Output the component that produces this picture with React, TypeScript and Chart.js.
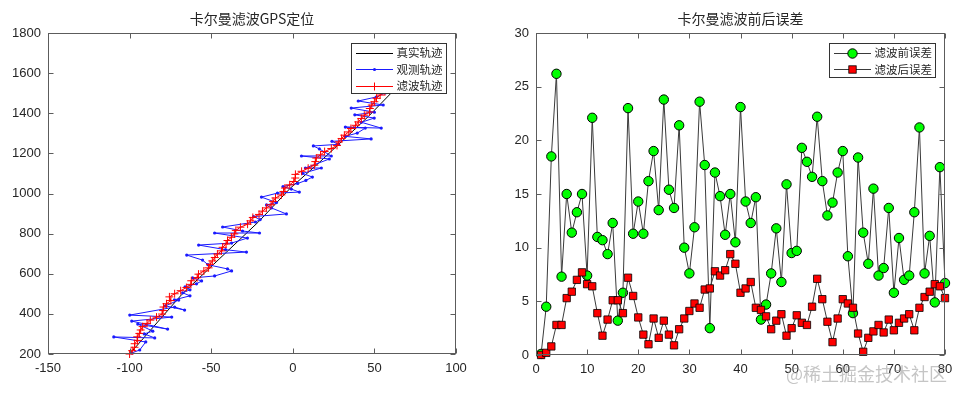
import React, { useEffect, useRef } from "react";
import { Chart, registerables } from "chart.js";

Chart.register(...registerables);

// ---------- Left chart: trajectories ----------
const trueX = [-100, -68, -21, -1.6, 15.6, 46.2, 60.6];
const trueY = [200, 497, 859, 1026, 1150, 1383, 1503.5];

const obsX = [
  -98.7, -93.8, -90.1, -109.7, -84.6, -91.0, -85.8, -95.0, -76.7, -98.7,
  -74.2, -99.9, -72.4, -66.3, -78.0, -69.9, -72.5, -63.0, -67.5, -63.0,
  -66.0, -59.0, -55.9, -61.4, -47.9, -37.5, -40.0, -52.0, -55.3, -65.0,
  -28.4, -41.2, -57.7, -37.5, -27.8, -47.9, -20.4, -30.8, -43.0, -22.9,
  -20.0, -24.0, -3.9, -13.1, -16.1, -10.0, -19.2, -9.4, 4.0, -0.9,
  -6.0, 3.0, 8.0, 12.0, 6.0, 17.5, 7.7, 22.4, 5.3, 23.6,
  16.3, 12.6, 28.0, 24.0, 48.0, 32.0, 39.5, 44.4, 32.2, 54.2,
  42.0, 49.9, 38.0, 50.0, 35.8, 55.4, 40.1, 51.1, 56.6, 66.4,
];
const obsY = [
  205, 220, 260, 285, 280, 300, 314, 349, 324, 364,
  384, 394, 434, 419, 440, 469, 470, 490, 505, 520,
  535, 550, 564, 579, 589, 614, 624, 645, 668, 693,
  708, 720, 743, 753, 778, 803, 803, 813, 833, 858,
  870, 885, 898, 928, 943, 955, 982, 1002, 1007, 1022,
  1035, 1050, 1065, 1082, 1100, 1127, 1127, 1172, 1187, 1187,
  1222, 1237, 1245, 1260, 1272, 1285, 1301, 1326, 1331, 1326,
  1355, 1376, 1392, 1405, 1426, 1441, 1461, 1481, 1501, 1506,
];

const filtX = [
  -100, -98.4, -97.0, -96.9, -95.1, -95.3, -94.0, -93.2, -92.0, -89.3,
  -87.3, -83.5, -80.1, -79.5, -79.2, -77.4, -74.7, -75.6, -72.4, -68.7,
  -65.2, -62.4, -62.2, -58.6, -57.8, -54.5, -51.6, -50.7, -49.3, -47.8,
  -46.2, -43.7, -43.0, -40.9, -40.0, -37.6, -35.8, -34.9, -32.1, -27.7,
  -26.0, -24.5, -20.7, -18.6, -16.2, -13.3, -12.1, -10.6, -7.0, -5.7,
  -4.8, -1.9, 0.6, 1.5, 1.6, 5.4, 9.4, 13.2, 13.8, 14.4,
  17.0, 19.5, 23.6, 27.1, 28.2, 29.9, 31.6, 34.3, 35.6, 38.5,
  40.1, 42.0, 43.8, 47.0, 47.2, 48.4, 50.0, 51.3, 53.5, 56.4,
];
const filtY = [
  200, 216.6, 233.5, 251.2, 267.7, 285.7, 302.5, 319.7, 336.6, 352.5,
  368.8, 383.8, 399.1, 416.5, 434.1, 450.6, 466.3, 484.8, 500.3, 515.6,
  531.1, 547.1, 565.0, 580.5, 597.9, 613.6, 629.5, 646.9, 664.0, 681.0,
  697.9, 714.1, 731.7, 748.2, 765.7, 781.9, 798.7, 816.1, 832.1, 847.0,
  863.7, 880.6, 895.6, 912.0, 928.2, 943.9, 960.9, 977.8, 993.1, 1010.0,
  1027.2, 1043.3, 1059.7, 1077.2, 1095.3, 1110.6, 1125.9, 1141.2, 1159.0, 1176.6,
  1192.9, 1209.1, 1224.2, 1239.7, 1257.0, 1273.8, 1290.7, 1306.8, 1324.0, 1339.9,
  1356.8, 1373.5, 1390.3, 1405.9, 1423.6, 1440.7, 1457.5, 1474.5, 1490.8, 1506.7,
];

const leftXTicks = [-150, -100, -50, 0, 50, 100];
const leftYTicks = [200, 400, 600, 800, 1000, 1200, 1400, 1600, 1800];

// ---------- Right chart: errors ----------
const steps = [
  1, 2, 3, 4, 5, 6, 7, 8, 9, 10, 11, 12, 13, 14, 15, 16, 17, 18, 19, 20,
  21, 22, 23, 24, 25, 26, 27, 28, 29, 30, 31, 32, 33, 34, 35, 36, 37, 38, 39, 40,
  41, 42, 43, 44, 45, 46, 47, 48, 49, 50, 51, 52, 53, 54, 55, 56, 57, 58, 59, 60,
  61, 62, 63, 64, 65, 66, 67, 68, 69, 70, 71, 72, 73, 74, 75, 76, 77, 78, 79, 80,
];
const errBefore = [
  0.1, 4.5, 18.5, 26.2, 7.3, 15.0, 11.4, 13.3, 15.0, 7.4,
  22.1, 11.0, 10.7, 9.4, 12.3, 3.2, 5.8, 23.0, 11.3, 14.3,
  11.3, 16.2, 19.0, 13.5, 23.8, 15.4, 13.7, 21.4, 10.0, 7.6,
  11.9, 23.6, 17.7, 2.5, 17.0, 14.8, 11.2, 15.0, 10.5, 23.1,
  14.3, 12.3, 14.7, 3.3, 4.7, 7.6, 11.8, 6.8, 15.9, 9.5,
  9.7, 19.3, 18.0, 16.6, 22.2, 16.2, 13.0, 14.2, 17.0, 19.0,
  9.2, 3.9, 18.4, 11.4, 8.5, 15.5, 7.4, 8.1, 13.7, 5.8,
  10.9, 7.0, 7.4, 13.3, 21.2, 7.6, 11.1, 4.9, 17.5, 6.7,
];
const errAfter = [
  0.0, 0.2, 0.8, 2.8, 2.8, 5.3, 5.9, 7.0, 7.7, 6.6,
  6.4, 3.9, 1.8, 3.3, 5.1, 5.1, 3.9, 7.2, 5.5, 3.5,
  1.9, 1.0, 3.4, 1.6, 3.2, 1.9, 0.9, 2.4, 3.4, 4.1,
  4.8, 4.4, 6.1, 6.2, 7.8, 7.4, 7.9, 9.4, 8.5, 5.8,
  6.2, 6.8, 4.4, 4.2, 3.6, 2.4, 3.2, 3.8, 1.8, 2.5,
  3.7, 3.0, 2.8, 4.5, 7.1, 5.2, 3.1, 1.2, 3.4, 5.2,
  4.8, 4.4, 2.0, 0.3, 1.6, 2.2, 2.8, 2.1, 3.3, 2.3,
  3.0, 3.4, 3.8, 2.3, 4.4, 5.4, 5.9, 6.6, 6.4, 5.3,
];
const rightXTicks = [0, 10, 20, 30, 40, 50, 60, 70, 80];
const rightYTicks = [0, 5, 10, 15, 20, 25, 30];

const leftTitle = "卡尔曼滤波GPS定位";
const rightTitle = "卡尔曼滤波前后误差";
const leftLegend = ["真实轨迹", "观测轨迹", "滤波轨迹"];
const rightLegend = ["滤波前误差", "滤波后误差"];
const watermark = "@稀土掘金技术社区";

// ---------- styling ----------
const AXIS = "#5c5c5c";
const TEXT = "#262626";
const CJK = '"Noto Sans CJK SC", "Noto Sans", sans-serif';
const NUM = '"Liberation Sans", Arial, sans-serif';

type LegendKind = "line" | "dot" | "plus" | "circle" | "square";

function drawMarker(ctx: CanvasRenderingContext2D, kind: LegendKind, x: number, y: number) {
  if (kind === "dot") {
    ctx.fillStyle = "#1a1aff";
    ctx.beginPath();
    ctx.arc(x, y, 1.6, 0, Math.PI * 2);
    ctx.fill();
  } else if (kind === "plus") {
    ctx.strokeStyle = "#ff0000";
    ctx.lineWidth = 1;
    ctx.beginPath();
    ctx.moveTo(x - 4, y);
    ctx.lineTo(x + 4, y);
    ctx.moveTo(x, y - 4);
    ctx.lineTo(x, y + 4);
    ctx.stroke();
  } else if (kind === "circle") {
    ctx.fillStyle = "#00ff00";
    ctx.strokeStyle = "#000";
    ctx.lineWidth = 1;
    ctx.beginPath();
    ctx.arc(x, y, 4.7, 0, Math.PI * 2);
    ctx.fill();
    ctx.stroke();
  } else if (kind === "square") {
    ctx.fillStyle = "#ff0000";
    ctx.strokeStyle = "#000";
    ctx.lineWidth = 0.8;
    ctx.fillRect(x - 3.7, y - 3.7, 7.4, 7.4);
    ctx.strokeRect(x - 3.7, y - 3.7, 7.4, 7.4);
  }
}

function makeFrame(cfg: {
  title: string;
  legend: { label: string; color: string; kind: LegendKind }[];
}) {
  return {
    id: "matlabFrame",
    afterDraw(chart: any) {
      const { ctx, chartArea: a } = chart;
      const L = Math.round(a.left) + 0.5;
      const R = Math.round(a.right) - 0.5;
      const T = Math.round(a.top) + 0.5;
      const B = Math.round(a.bottom) - 0.5;
      ctx.save();
      // box
      ctx.strokeStyle = AXIS;
      ctx.lineWidth = 1;
      ctx.strokeRect(L, T, R - L, B - T);
      // ticks (inward, all four sides)
      const tl = 5;
      const xs = chart.scales.x;
      const ys = chart.scales.y;
      ctx.beginPath();
      xs.ticks.forEach((_t: any, i: number) => {
        const px = Math.round(xs.getPixelForTick(i)) + 0.5;
        ctx.moveTo(px, B);
        ctx.lineTo(px, B - tl);
        ctx.moveTo(px, T);
        ctx.lineTo(px, T + tl);
      });
      ys.ticks.forEach((_t: any, i: number) => {
        const py = Math.round(ys.getPixelForTick(i)) + 0.5;
        ctx.moveTo(L, py);
        ctx.lineTo(L + tl, py);
        ctx.moveTo(R, py);
        ctx.lineTo(R - tl, py);
      });
      ctx.stroke();

      // title
      ctx.fillStyle = TEXT;
      ctx.font = `14px ${CJK}`;
      ctx.textAlign = "center";
      ctx.textBaseline = "middle";
      ctx.fillText(cfg.title, (a.left + a.right) / 2, 18.5);

      // legend
      ctx.font = `11.5px ${CJK}`;
      const textW = Math.max(...cfg.legend.map((it) => ctx.measureText(it.label).width));
      const w = 45 + textW + 4;
      const n = cfg.legend.length;
      const h = 17 + (n - 1) * 16.5;
      const bx = Math.round(a.right - 10 - w) + 0.5;
      const by = Math.round(a.top + 9.5) + 0.5;
      ctx.fillStyle = "#ffffff";
      ctx.fillRect(bx, by, Math.round(w), Math.round(h));
      ctx.strokeStyle = "#333";
      ctx.lineWidth = 1;
      ctx.strokeRect(bx, by, Math.round(w), Math.round(h));
      cfg.legend.forEach((it, i) => {
        const cy = by + 9 + i * 16.5;
        ctx.strokeStyle = it.color;
        ctx.lineWidth = 1;
        ctx.beginPath();
        ctx.moveTo(bx + 4.5, Math.round(cy) + 0.5);
        ctx.lineTo(bx + 41.5, Math.round(cy) + 0.5);
        ctx.stroke();
        drawMarker(ctx, it.kind, bx + 23, Math.round(cy) + 0.5);
        ctx.fillStyle = TEXT;
        ctx.textAlign = "left";
        ctx.textBaseline = "middle";
        ctx.fillText(it.label, bx + 45, cy + 0.5);
      });
      ctx.restore();
    },
  };
}

function axisCommon(tickValues: number[], min: number, max: number, fitProp: "width" | "height", fitSize: number, pad: number) {
  return {
    type: "linear" as const,
    min,
    max,
    afterBuildTicks: (s: any) => {
      s.ticks = tickValues.map((v) => ({ value: v }));
    },
    afterFit: (s: any) => {
      s[fitProp] = fitSize;
    },
    ticks: {
      font: { family: NUM, size: 13 },
      color: TEXT,
      padding: pad,
      maxRotation: 0,
      autoSkip: false,
      callback: (v: any) => String(v),
    },
    grid: { display: false, drawTicks: false, tickLength: 0 },
    border: { display: false },
  };
}

function pts(xs: number[], ys: number[]) {
  return xs.map((x, i) => ({ x, y: ys[i] }));
}

export default function App() {
  const leftRef = useRef<HTMLCanvasElement>(null);
  const rightRef = useRef<HTMLCanvasElement>(null);

  useEffect(() => {
    const left = new Chart(leftRef.current!, {
      type: "line",
      data: {
        datasets: [
          {
            label: leftLegend[2],
            data: pts(filtX, filtY),
            borderColor: "#ff0000",
            borderWidth: 1,
            pointStyle: "cross",
            pointRadius: 4,
            pointBorderColor: "#ff0000",
            pointBorderWidth: 1,
            clip: false as any,
            order: 1,
          },
          {
            label: leftLegend[1],
            data: pts(obsX, obsY),
            borderColor: "#1a1aff",
            borderWidth: 1,
            pointStyle: "circle",
            pointRadius: 1.6,
            pointBackgroundColor: "#1a1aff",
            pointBorderWidth: 0,
            clip: false as any,
            order: 2,
          },
          {
            label: leftLegend[0],
            data: pts(trueX, trueY),
            borderColor: "#000000",
            borderWidth: 1,
            pointRadius: 0,
            clip: false as any,
            order: 3,
          },
        ],
      },
      options: {
        animation: false,
        responsive: false,
        events: [],
        layout: { padding: { top: 33, right: 26, bottom: 0, left: 0 } },
        plugins: { legend: { display: false }, title: { display: false }, tooltip: { enabled: false } },
        scales: {
          x: axisCommon(leftXTicks, -150, 100, "height", 44, 7) as any,
          y: axisCommon(leftYTicks, 200, 1800, "width", 48, 7) as any,
        },
      },
      plugins: [
        makeFrame({
          title: leftTitle,
          legend: [
            { label: leftLegend[0], color: "#000000", kind: "line" },
            { label: leftLegend[1], color: "#1a1aff", kind: "dot" },
            { label: leftLegend[2], color: "#ff0000", kind: "plus" },
          ],
        }),
      ],
    });

    const right = new Chart(rightRef.current!, {
      type: "line",
      data: {
        datasets: [
          {
            label: rightLegend[1],
            data: pts(steps, errAfter),
            borderColor: "#3a3a3a",
            borderWidth: 1,
            pointStyle: "rect",
            pointRadius: 5.2,
            pointBackgroundColor: "#ff0000",
            pointBorderColor: "#000000",
            pointBorderWidth: 0.8,
            clip: false as any,
            order: 1,
          },
          {
            label: rightLegend[0],
            data: pts(steps, errBefore),
            borderColor: "#3a3a3a",
            borderWidth: 1,
            pointStyle: "circle",
            pointRadius: 4.7,
            pointBackgroundColor: "#00ff00",
            pointBorderColor: "#000000",
            pointBorderWidth: 1,
            clip: false as any,
            order: 2,
          },
        ],
      },
      options: {
        animation: false,
        responsive: false,
        events: [],
        layout: { padding: { top: 33, right: 19, bottom: 0, left: 0 } },
        plugins: { legend: { display: false }, title: { display: false }, tooltip: { enabled: false } },
        scales: {
          x: axisCommon(rightXTicks, 0, 80, "height", 43, 7) as any,
          y: axisCommon(rightYTicks, 0, 30, "width", 54, 7) as any,
        },
      },
      plugins: [
        makeFrame({
          title: rightTitle,
          legend: [
            { label: rightLegend[0], color: "#3a3a3a", kind: "circle" },
            { label: rightLegend[1], color: "#3a3a3a", kind: "square" },
          ],
        }),
      ],
    });

    return () => {
      left.destroy();
      right.destroy();
    };
  }, []);

  return (
    <div style={{ position: "fixed", left: 0, top: 0, width: 964, height: 398, background: "#ffffff", overflow: "hidden" }}>
      <canvas ref={leftRef} width={482} height={398} style={{ position: "absolute", left: 0, top: 0, width: 482, height: 398 }} />
      <canvas ref={rightRef} width={482} height={398} style={{ position: "absolute", left: 482, top: 0, width: 482, height: 398 }} />
      <div
        style={{
          position: "absolute",
          left: 786,
          top: 361,
          fontFamily: CJK,
          fontSize: 18,
          lineHeight: "24px",
          color: "rgba(150,150,150,0.55)",
          whiteSpace: "nowrap",
          pointerEvents: "none",
        }}
      >
        {watermark}
      </div>
    </div>
  );
}
